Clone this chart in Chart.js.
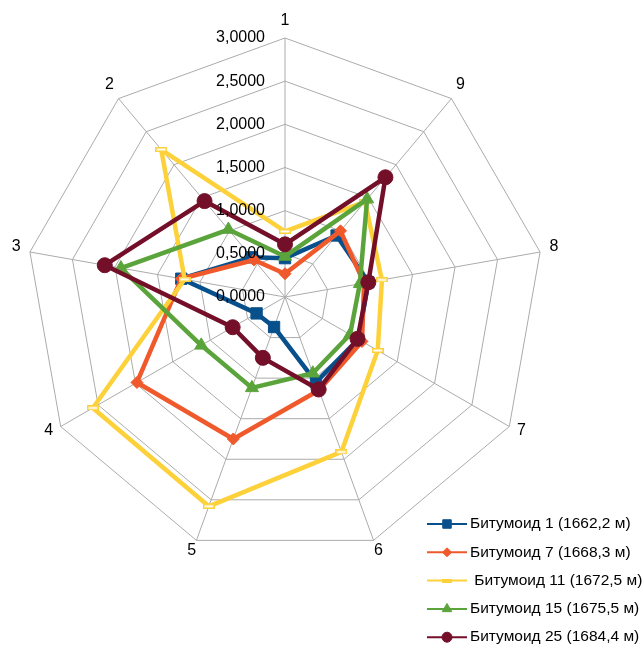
<!DOCTYPE html>
<html>
<head>
<meta charset="utf-8">
<script src="https://cdn.jsdelivr.net/npm/chart.js@4/dist/chart.umd.min.js"></script>
<style>
    html, body { margin: 0; padding: 0; background: #fff; }
    #wrap { width: 644px; height: 647px; position: relative; }
</style>
</head>
<body>
<div id="wrap"><canvas id="radarChart" width="644" height="647"></canvas></div>
<script>
// Оси 1..9 и значения образцов по каждой оси
const axisLabels = ['1', '2', '3', '4', '5', '6', '7', '8', '9'];
const tickValues = [0, 0.5, 1, 1.5, 2, 2.5, 3];

const bit1  = [0.45, 0.60, 1.22, 0.38, 0.37, 1.05, 0.98, 0.98, 0.93];
const bit7  = [0.27, 0.56, 1.22, 1.98, 1.75, 1.15, 1.03, 0.93, 1.00];
const bit11 = [0.76, 2.23, 1.18, 2.57, 2.58, 1.91, 1.24, 1.14, 1.44];
const bit15 = [0.47, 1.02, 1.93, 1.12, 1.12, 0.94, 0.87, 0.88, 1.48];
const bit25 = [0.61, 1.45, 2.12, 0.70, 0.75, 1.14, 0.97, 0.98, 1.81];

const seriesNames = [
    'Битумоид 1 (1662,2 м)',
    'Битумоид 7 (1668,3 м)',
    ' Битумоид 11 (1672,5 м)',
    'Битумоид 15 (1675,5 м)',
    'Битумоид 25 (1684,4 м)'
];

// оси идут против часовой стрелки: 1, 9, 8 ... 2 по ходу Chart.js
const axisOrder = [0, 8, 7, 6, 5, 4, 3, 2, 1];
const reorder = arr => axisOrder.map(i => arr[i]);

// маркер-"черточка" для желтой серии
function dashMarker(w, h, fill, stroke) {
    const c = document.createElement('canvas');
    c.width = w; c.height = h;
    const g = c.getContext('2d');
    g.fillStyle = fill;
    g.fillRect(0, 0, w, h);
    g.strokeStyle = stroke;
    g.lineWidth = 1.5;
    g.strokeRect(0.75, 0.75, w - 1.5, h - 1.5);
    return c;
}
const yellowMark = dashMarker(12, 5, '#ffffff', '#fdd13a');
const yellowLegendMark = dashMarker(10, 4, '#fdd13a', '#fdd13a');

const datasets = [
    { label: seriesNames[0], data: reorder(bit1), borderColor: '#07508c', pointBackgroundColor: '#07508c',
      pointStyle: 'rect', pointRadius: 8, order: 5, legendRadius: 6 },
    { label: seriesNames[1], data: reorder(bit7), borderColor: '#ef592b', pointBackgroundColor: '#ef592b',
      pointStyle: 'rectRot', pointRadius: 6, order: 4, legendRadius: 4.5 },
    { label: seriesNames[2], data: reorder(bit11), borderColor: '#fdd13a', pointBackgroundColor: '#fdd13a',
      pointStyle: yellowMark, pointRadius: 6, order: 3, legendMark: yellowLegendMark },
    { label: seriesNames[3], data: reorder(bit15), borderColor: '#5ba43c', pointBackgroundColor: '#5ba43c',
      pointStyle: 'triangle', pointRadius: 7.5, order: 2, legendRadius: 5.5 },
    { label: seriesNames[4], data: reorder(bit25), borderColor: '#740f29', pointBackgroundColor: '#740f29',
      pointStyle: 'circle', pointRadius: 7.5, order: 1, legendRadius: 5 }
];
datasets.forEach(ds => {
    ds.borderWidth = 4.5;
    ds.pointBorderColor = ds.borderColor;
    ds.pointBorderWidth = 1;
    ds.fill = false;
    ds.tension = 0;
    ds.borderJoinStyle = 'round';
});

const labelFont = '16px "Liberation Sans", Arial, sans-serif';
const legendFont = '15.5px "Liberation Sans", Arial, sans-serif';

// подписи шкалы, номера осей и легенда
const radarDecor = {
    id: 'radarDecor',
    afterDatasetsDraw(chart) {
        const ctx = chart.ctx;
        const scale = chart.scales.r;
        ctx.save();
        ctx.fillStyle = '#000';
        ctx.font = labelFont;
        ctx.textAlign = 'right';
        ctx.textBaseline = 'middle';
        tickValues.forEach(v => {
            const d = scale.getDistanceFromCenterForValue(v);
            ctx.fillText(v.toFixed(4).replace('.', ','), scale.xCenter - 20, scale.yCenter - d);
        });

        ctx.textAlign = 'center';
        chart.data.labels.forEach((lab, i) => {
            const p = scale.getPointPosition(i, scale.drawingArea + 14);
            ctx.fillText(lab, p.x, p.y - 3);
        });

        const lx = 427, ly = 524, step = 28.3;
        chart.data.datasets.forEach((ds, i) => {
            const y = ly + i * step;
            ctx.strokeStyle = ds.borderColor;
            ctx.lineWidth = 2;
            ctx.beginPath();
            ctx.moveTo(lx, y);
            ctx.lineTo(lx + 40, y);
            ctx.stroke();
            ctx.fillStyle = ds.borderColor;
            ctx.lineWidth = 1;
            if (ds.legendMark) {
                ctx.drawImage(ds.legendMark, lx + 20 - ds.legendMark.width / 2, y - ds.legendMark.height / 2);
            } else {
                Chart.helpers.drawPoint(ctx, { pointStyle: ds.pointStyle, rotation: 0, radius: ds.legendRadius, borderWidth: 1 }, lx + 20, y);
            }
            ctx.fillStyle = '#000';
            ctx.textAlign = 'left';
            ctx.font = legendFont;
            ctx.fillText(ds.label, lx + 43, y);
        });
        ctx.restore();
    }
};

const radarChart = new Chart(document.getElementById('radarChart').getContext('2d'), {
    type: 'radar',
    data: {
        labels: reorder(axisLabels),
        datasets: datasets
    },
    options: {
        responsive: false,
        animation: false,
        layout: { padding: { left: 26, top: 38, right: 100, bottom: 91 } },
        plugins: {
            legend: { display: false },
            tooltip: { enabled: false }
        },
        scales: {
            r: {
                min: 0,
                max: 3,
                ticks: { stepSize: 0.5, display: false },
                pointLabels: { display: false },
                grid: { color: '#ababab', lineWidth: 1 },
                angleLines: { color: '#ababab', lineWidth: 1 }
            }
        }
    },
    plugins: [radarDecor]
});
</script>
</body>
</html>
